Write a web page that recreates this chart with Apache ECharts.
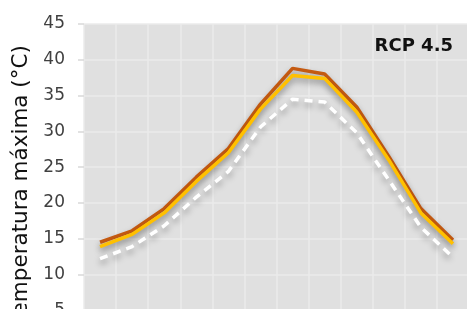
<!DOCTYPE html>
<html>
<head>
<meta charset="utf-8">
<script src="https://cdn.jsdelivr.net/npm/echarts@6/dist/echarts.min.js"></script>
<style>
  html, body { margin: 0; padding: 0; background: #ffffff; }
  #chart { width: 467px; height: 309px; }
</style>
</head>
<body>
<div id="chart"></div>
<script>
// meses y temperaturas máximas (°C)
var months = ['Ene', 'Feb', 'Mar', 'Abr', 'May', 'Jun', 'Jul', 'Ago', 'Sep', 'Oct', 'Nov', 'Dic'];
var orangeSeries = [14.5, 16.1, 19.2, 23.6, 27.6, 33.8, 38.8, 38.0, 33.4, 26.5, 19.2, 14.8];
var yellowSeries = [13.9, 15.6, 18.6, 23.0, 27.0, 33.1, 37.8, 37.4, 32.7, 26.0, 18.6, 14.3];
var whiteSeries  = [12.2, 13.9, 16.8, 20.8, 24.4, 30.6, 34.5, 34.1, 29.8, 23.2, 16.6, 12.4];
var yTicks = { min: 0, max: 45, interval: 5 };

var chart = echarts.init(document.getElementById('chart'));

function lineSeries(name, data, color, dashed) {
  return {
    name: name,
    type: 'line',
    data: data,
    symbol: 'none',
    smooth: false,
    lineStyle: {
      color: color,
      width: 3.5,
      type: dashed ? [8, 6] : 'solid',
      shadowColor: 'rgba(0,0,0,0.35)',
      shadowBlur: 6,
      shadowOffsetY: 4
    },
    z: 3
  };
}

chart.setOption({
  backgroundColor: '#ffffff',
  animation: false,
  title: {
    text: 'RCP 4.5',
    right: 9,
    top: 32,
    textStyle: {
      fontFamily: 'DejaVu Sans',
      fontWeight: 'bold',
      fontSize: 18,
      color: '#111111'
    }
  },
  grid: {
    left: 84,
    top: 24,
    width: 385,
    height: 322,
    show: true,
    backgroundColor: '#E0E0E0',
    borderWidth: 0,
    containLabel: false,
    outerBoundsMode: 'none'
  },
  xAxis: {
    type: 'category',
    data: months,
    boundaryGap: true,
    axisLine: { show: false },
    axisTick: { show: false },
    axisLabel: { show: false },
    splitLine: { show: true, lineStyle: { color: '#EBEBEB', width: 1.5 } }
  },
  yAxis: {
    type: 'value',
    min: yTicks.min,
    max: yTicks.max,
    interval: yTicks.interval,
    name: 'Temperatura máxima (°C)',
    nameLocation: 'middle',
    nameGap: 52,
    nameTextStyle: {
      fontFamily: 'DejaVu Sans',
      fontSize: 21.5,
      color: '#111111'
    },
    axisLine: { show: false },
    axisTick: { show: true, length: 6, lineStyle: { color: '#D9D9D9', width: 1.5 } },
    axisLabel: {
      margin: 19,
      fontFamily: 'DejaVu Sans',
      fontSize: 17,
      color: '#404040'
    },
    splitLine: { show: true, lineStyle: { color: '#EBEBEB', width: 1.5 } }
  },
  series: [
    lineSeries('Escenario alto', orangeSeries, '#C55A11', false),
    lineSeries('Escenario medio', yellowSeries, '#FFC000', false),
    lineSeries('Histórico', whiteSeries, '#FFFFFF', true)
  ]
});
</script>
</body>
</html>
